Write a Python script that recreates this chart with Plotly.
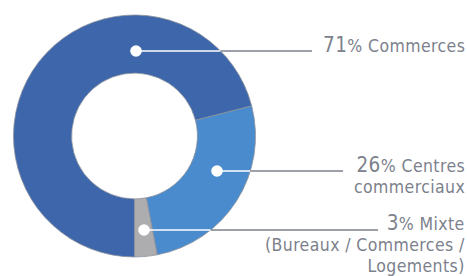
import math
import plotly.graph_objects as go

# ---- data ----
labels = ["Commerces", "Centres commerciaux", "Mixte (Bureaux / Commerces / Logements)"]
values = [71, 26, 3]
pct_labels = ["71", "26", "3"]
label_first = ["Commerces", "Centres", "Mixte"]
label_more = [[], ["commerciaux"], ["(Bureaux / Commerces /", "Logements)"]]

# ---- style ----
W, H = 467, 276
colors = ["#3d66ab", "#4a8bcd", "#adadb0"]
cx, cy, R = 134.5, 136, 121
dots_x = [136, 217, 144]
dots_y = [51, 171, 230]
line_end = [312, 343, 378]
first_base = [51.5, 170.7, 229]   # baseline of first label line (px)
grey = "#7c818c"
FONT = "DejaVu Sans Condensed, Roboto, sans-serif"
GAP = 21.1
BASE = GAP / 1.3          # plotly line spacing is 1.3 x base font size
BODY, BIG = 17.5, 20.5
LS = "letter-spacing:0.4px"

fig = go.Figure()
fig.add_trace(go.Pie(
    labels=labels, values=values, sort=False, direction="clockwise", rotation=180,
    hole=0.52, textinfo="none", hoverinfo="skip", showlegend=False,
    marker=dict(colors=colors, line=dict(color="#8a909b", width=0.8)),
    domain=dict(x=[(cx - R) / W, (cx + R) / W], y=[1 - (cy + R) / H, 1 - (cy - R) / H]),
))

shapes = []
for dx, dy, xe in zip(dots_x, dots_y, line_end):
    edge = cx + math.sqrt(max(R * R - (dy - cy) ** 2, 0))
    shapes.append(dict(type="line", xref="x", yref="y", x0=dx, x1=edge, y0=dy, y1=dy,
                       line=dict(color="white", width=1.3)))
    shapes.append(dict(type="line", xref="x", yref="y", x0=edge, x1=xe, y0=dy, y1=dy,
                       line=dict(color=grey, width=1.3)))
    shapes.append(dict(type="circle", xref="x", yref="y", xsizemode="pixel", ysizemode="pixel",
                       xanchor=dx, yanchor=dy, x0=-5.8, x1=5.8, y0=-5.8, y1=5.8,
                       fillcolor="white", line=dict(width=0)))

annotations = []
for p, t, more, b in zip(pct_labels, label_first, label_more, first_base):
    lines = [f"<span style='font-size:{BIG}px;{LS}'>{p}</span>"
             f"<span style='font-size:{BODY}px;{LS}'>% {t}</span>"]
    lines += [f"<span style='font-size:{BODY}px;{LS}'>{ln}</span>" for ln in more]
    top = b - 0.928 * BIG
    bottom = b + len(more) * GAP + 0.236 * BODY
    annotations.append(dict(
        x=466, y=(top + bottom) / 2 + 1, xref="x", yref="y", xanchor="right", yanchor="middle",
        align="right", showarrow=False, borderpad=0,
        text="<br>".join(lines),
        font=dict(family=FONT, size=BASE, color=grey),
    ))

fig.update_layout(
    width=W, height=H, margin=dict(l=0, r=0, t=0, b=0),
    paper_bgcolor="white", plot_bgcolor="rgba(0,0,0,0)",
    xaxis=dict(range=[0, W], visible=False, fixedrange=True),
    yaxis=dict(range=[H, 0], visible=False, fixedrange=True),
    shapes=shapes, annotations=annotations,
)
fig.write_html("out.html", config={"displayModeBar": False},
               post_script="document.body.style.margin='0';document.body.style.overflow='hidden';")
